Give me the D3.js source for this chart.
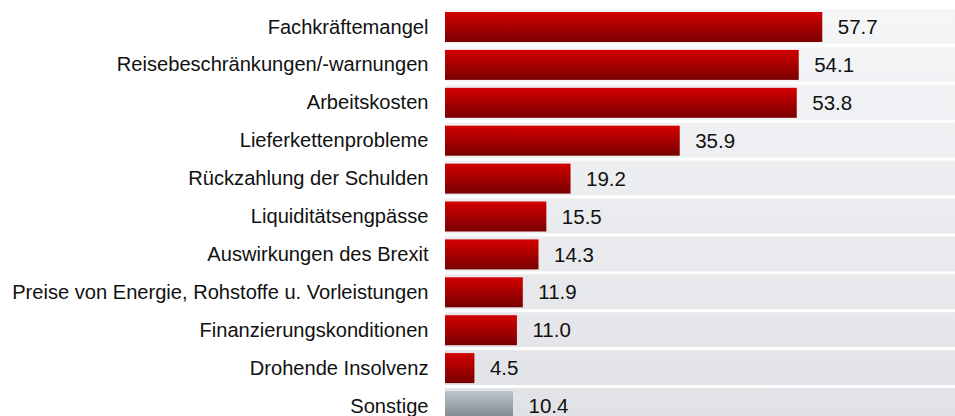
<!DOCTYPE html>
<html><head><meta charset="utf-8">
<script src="https://cdn.jsdelivr.net/npm/d3@7"></script>
<style>html,body{margin:0;padding:0;background:#fff;}svg{display:block;}</style>
</head><body>
<script>
const categories = ["Fachkräftemangel","Reisebeschränkungen/-warnungen","Arbeitskosten","Lieferkettenprobleme","Rückzahlung der Schulden","Liquiditätsengpässe","Auswirkungen des Brexit","Preise von Energie, Rohstoffe u. Vorleistungen","Finanzierungskonditionen","Drohende Insolvenz","Sonstige"];
const values = [57.7,54.1,53.8,35.9,19.2,15.5,14.3,11.9,11.0,4.5,10.4];
const highlight = [false,false,false,false,false,false,false,false,false,false,true];

const W=955,H=416;
const svg=d3.select("body").append("svg").attr("width",W).attr("height",H);
const defs=svg.append("defs");
const gr=defs.append("linearGradient").attr("id","gRed").attr("x1",0).attr("y1",0).attr("x2",0).attr("y2",1);
gr.append("stop").attr("offset","0%").attr("stop-color","#d40000");
gr.append("stop").attr("offset","100%").attr("stop-color","#780000");
const gg=defs.append("linearGradient").attr("id","gGray").attr("x1",0).attr("y1",0).attr("x2",0).attr("y2",1);
gg.append("stop").attr("offset","0%").attr("stop-color","#bcc6ce");
gg.append("stop").attr("offset","100%").attr("stop-color","#7a8188");
const gb=defs.append("linearGradient").attr("id","gBand").attr("gradientUnits","userSpaceOnUse").attr("x1",0).attr("y1",9).attr("x2",0).attr("y2",416);
gb.append("stop").attr("offset","0%").attr("stop-color","#f5f6f8");
gb.append("stop").attr("offset","100%").attr("stop-color","#e0e2e5");

const x=d3.scaleLinear().domain([0,78]).range([445,955]);
const pitch=37.9;
const y=d3.scaleBand().domain(categories).range([9,9+pitch*categories.length]).paddingInner(0).paddingOuter(0);
const bandTop=d=>y(d);

svg.append("g").selectAll("rect").data(categories).join("rect")
  .attr("x",x(0)).attr("y",d=>bandTop(d)).attr("width",W-x(0)).attr("height",pitch-3)
  .attr("fill","url(#gBand)");

svg.append("g").selectAll("rect").data(categories).join("rect")
  .attr("x",x(0)).attr("y",d=>bandTop(d)+3).attr("width",(d,i)=>x(values[i])-x(0)).attr("height",30)
  .attr("fill",(d,i)=>highlight[i]?"url(#gGray)":"url(#gRed)");

svg.append("g").selectAll("text").data(categories).join("text")
  .attr("x",428.5).attr("y",d=>bandTop(d)+17.5).attr("dy","0.35em")
  .attr("text-anchor","end").attr("font-family","Liberation Sans, Arial, sans-serif")
  .attr("font-size",20.1).attr("fill","#111").text(d=>d);

svg.append("g").selectAll("text").data(categories).join("text")
  .attr("x",(d,i)=>x(values[i])+15.5).attr("y",d=>bandTop(d)+18).attr("dy","0.35em")
  .attr("font-family","Liberation Sans, Arial, sans-serif")
  .attr("font-size",20.5).attr("fill","#111").text((d,i)=>values[i].toFixed(1));
</script>
</body></html>
